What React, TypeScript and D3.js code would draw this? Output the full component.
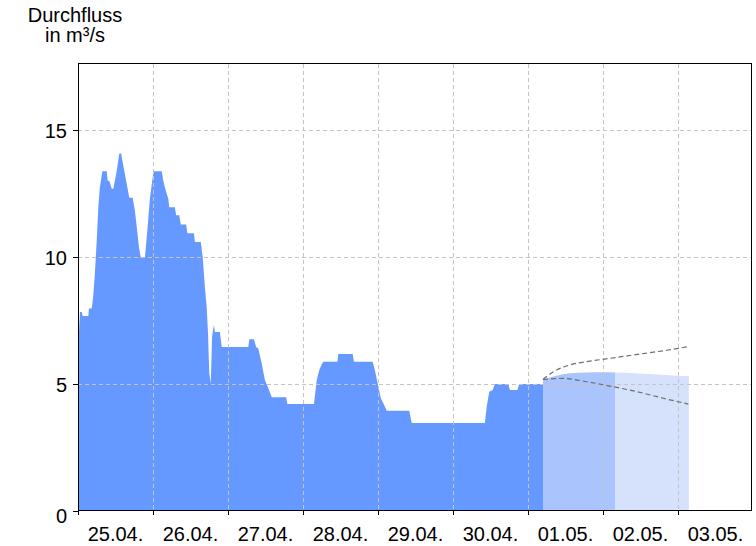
import React from "react";
import * as d3 from "d3";

// Hours since 25.04. 00:00
const obsHours = [0, 0.64, 1.2, 1.5, 3.3, 3.5, 4.4, 4.9, 5.4, 6.0, 6.5, 7.0, 7.8, 9.2, 9.5, 10.0, 10.8, 11.3, 12.4, 13.2, 13.8, 14.3, 15.0, 15.8, 16.4, 17.5, 18.2, 18.8, 19.5, 20.1, 21.4, 22.2, 23.0, 23.9, 24.3, 26.8, 27.3, 27.8, 28.4, 28.9, 29.2, 31.0, 31.4, 32.4, 32.9, 34.6, 35.0, 37.1, 37.4, 39.3, 39.9, 40.6, 41.2, 41.6, 42.0, 42.5, 42.9, 43.2, 43.5, 43.8, 45.4, 46.0, 54.5, 54.8, 56.3, 57.0, 57.7, 58.8, 59.8, 60.9, 62.0, 66.6, 67.0, 75.5, 76.4, 77.2, 78.0, 78.5, 83.0, 83.3, 87.9, 88.3, 94.3, 95.0, 96.1, 96.9, 97.7, 98.8, 106.0, 106.8, 130.2, 130.8, 131.6, 132.7, 133.4, 137.7, 138.2, 140.6, 141.2, 148.8];
const obsValues = [6.3, 7.84, 7.84, 7.68, 7.68, 7.97, 7.97, 8.5, 9.35, 10.66, 11.96, 12.75, 13.38, 13.38, 13.0, 13.0, 12.69, 12.69, 13.4, 14.08, 14.08, 13.73, 13.27, 12.75, 12.33, 12.33, 11.83, 11.18, 10.39, 9.97, 9.97, 11.05, 12.3, 13.14, 13.38, 13.38, 13.0, 12.75, 12.49, 12.29, 11.96, 11.96, 11.64, 11.64, 11.28, 11.28, 10.94, 10.94, 10.59, 10.59, 10.0, 8.82, 8.0, 7.0, 5.42, 5.03, 6.86, 7.12, 7.32, 7.05, 7.05, 6.46, 6.46, 6.76, 6.76, 6.46, 6.4, 5.81, 5.16, 4.83, 4.48, 4.48, 4.21, 4.21, 5.16, 5.55, 5.78, 5.88, 5.88, 6.18, 6.18, 5.88, 5.88, 5.55, 4.9, 4.44, 4.24, 3.95, 3.95, 3.46, 3.46, 4.11, 4.7, 4.76, 5.0, 5.0, 4.76, 4.76, 5.0, 5.0];

const fcHours = [148.8, 153, 157.4, 163, 168, 172, 178, 184, 190, 195.5];
const fcMedian = [5.18, 5.33, 5.42, 5.45, 5.46, 5.45, 5.42, 5.38, 5.34, 5.31];
const fcSplitHour = 172;

const upperHours = [148.8, 152.1, 157.4, 163.8, 170.2, 180.9, 188.4, 194.8];
const upperValues = [5.18, 5.48, 5.75, 5.9, 6.01, 6.2, 6.33, 6.46];
const lowerHours = [148.8, 155.3, 162.8, 170.2, 178.8, 187.3, 195.3];
const lowerValues = [5.18, 5.22, 5.09, 4.92, 4.7, 4.44, 4.21];

const dayLabels = ["25.04.", "26.04.", "27.04.", "28.04.", "29.04.", "30.04.", "01.05.", "02.05.", "03.05."];
const yTicks = [0, 5, 10, 15];

const W = 756, H = 546;
const left = 78, right = 751, top = 64, bottom = 511;
const font = "'Liberation Sans', Arial, sans-serif";

export default function App() {
  const x = d3.scaleLinear().domain([0, 215.36]).range([left, right]);
  const y = d3.scaleLinear().domain([0, 17.6]).range([bottom, top]);

  const obs = obsHours.map((h, i) => [h, obsValues[i]] as [number, number]);
  const fc = fcHours.map((h, i) => [h, fcMedian[i]] as [number, number]);
  const up = upperHours.map((h, i) => [h, upperValues[i]] as [number, number]);
  const lo = lowerHours.map((h, i) => [h, lowerValues[i]] as [number, number]);

  const areaLin = d3.area<[number, number]>().x(d => x(d[0])).y0(bottom).y1(d => y(d[1]));
  const areaSmooth = d3.area<[number, number]>().x(d => x(d[0])).y0(bottom).y1(d => y(d[1])).curve(d3.curveMonotoneX);
  const line = d3.line<[number, number]>().x(d => x(d[0])).y(d => y(d[1])).curve(d3.curveMonotoneX);

  const dayTicks = d3.range(0, 9).map(d => d * 24);

  return (
    <svg width={W} height={H} style={{ position: "absolute", left: 0, top: 0, background: "#fff" }}>
      <defs>
        <clipPath id="c1"><rect x={x(fcHours[0])} y={top} width={x(fcSplitHour) - x(fcHours[0])} height={bottom - top} /></clipPath>
        <clipPath id="c2"><rect x={x(fcSplitHour)} y={top} width={x(fcHours[fcHours.length - 1]) - x(fcSplitHour)} height={bottom - top} /></clipPath>
      </defs>
      <path d={areaLin(obs) || ""} fill="#6699ff" />
      <path d={areaSmooth(fc) || ""} fill="#aac5fd" clipPath="url(#c1)" />
      <path d={areaSmooth(fc) || ""} fill="#d6e2fb" clipPath="url(#c2)" />
      {/* grid */}
      {dayTicks.slice(1).map(h => (
        <line key={"gx" + h} x1={x(h) + 0.5} x2={x(h) + 0.5} y1={top} y2={bottom} stroke="#c4c4c4" strokeDasharray="4,3" />
      ))}
      {yTicks.slice(1).map(v => (
        <line key={"gy" + v} x1={left} x2={right} y1={Math.round(y(v)) + 0.5} y2={Math.round(y(v)) + 0.5} stroke="#c4c4c4" strokeDasharray="4,3" />
      ))}
      <path d={line(up) || ""} fill="none" stroke="#6e6e6e" strokeWidth={1.2} strokeDasharray="5,3" />
      <path d={line(lo) || ""} fill="none" stroke="#6e6e6e" strokeWidth={1.2} strokeDasharray="5,3" />
      {/* frame */}
      <rect x={left + 0.5} y={top - 0.5} width={right - left} height={bottom - top} fill="none" stroke="#000" />
      {yTicks.map(v => (
        <g key={"yt" + v}>
          <line x1={left - 5} x2={left} y1={Math.round(y(v)) + 0.5} y2={Math.round(y(v)) + 0.5} stroke="#000" />
          <text x={67} y={y(v) + (v === 0 ? 5 : 1)} dy="0.36em" textAnchor="end" fontFamily={font} fontSize={20}>{v}</text>
        </g>
      ))}
      {dayTicks.map(h => (
        <line key={"xt" + h} x1={x(h) + 0.5} x2={x(h) + 0.5} y1={bottom} y2={bottom + 4} stroke="#000" />
      ))}
      {dayLabels.map((l, i) => (
        <text key={l} x={x(i * 24 + 12)} y={541} textAnchor="middle" fontFamily={font} fontSize={20}>{l}</text>
      ))}
      <text x={75} y={22} textAnchor="middle" fontFamily={font} fontSize={20}>Durchfluss</text>
      <text x={75} y={42} textAnchor="middle" fontFamily={font} fontSize={20}>in m³/s</text>
    </svg>
  );
}
